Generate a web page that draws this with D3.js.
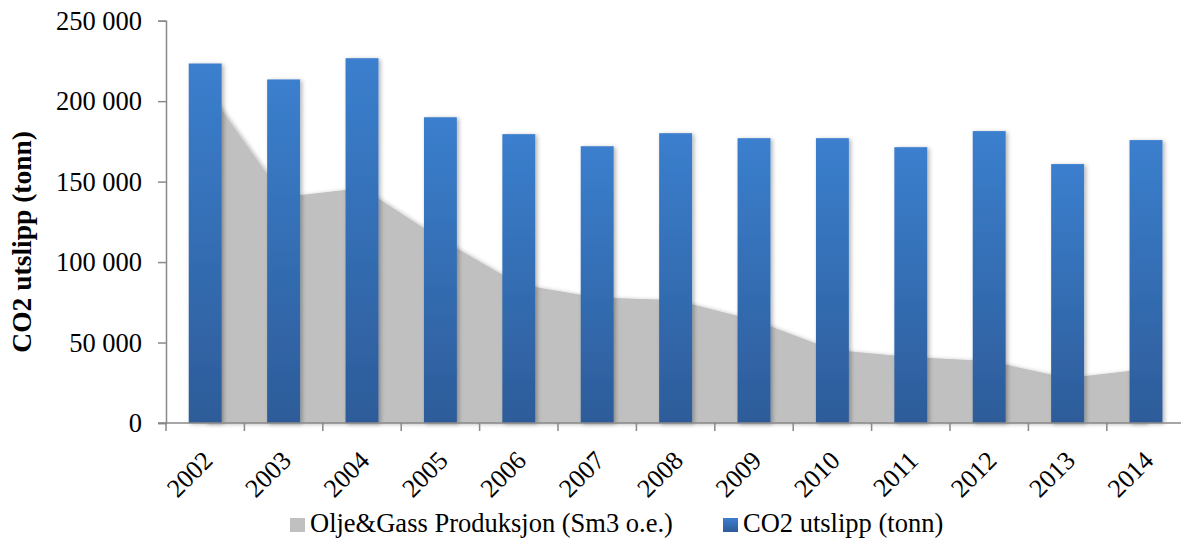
<!DOCTYPE html>
<html>
<head>
<meta charset="utf-8">
<script src="https://cdn.jsdelivr.net/npm/d3@7/dist/d3.min.js"></script>
<style>
  html, body { margin: 0; padding: 0; background: #fff; }
  svg { display: block; }
  text { font-family: "Liberation Serif", "Times New Roman", "DejaVu Serif", serif; fill: #000; }
</style>
</head>
<body>
<svg id="chart" width="1181" height="541"></svg>
<script>
// Years on the category axis
const years = ["2002","2003","2004","2005","2006","2007","2008","2009","2010","2011","2012","2013","2014"];
// CO2 emissions (tonnes) per year
const co2 = [223400, 213500, 226700, 190000, 179500, 172000, 180100, 177000, 177000, 171400, 181400, 160900, 175800];
// Oil & gas production (Sm3 o.e.) per year
const production = [209000, 140500, 146000, 114500, 86200, 78000, 76500, 64000, 45500, 41000, 38500, 28000, 33500];
// Value axis ticks
const yTicks = [0, 50000, 100000, 150000, 200000, 250000];

const serif = "'Liberation Serif', 'Times New Roman', 'DejaVu Serif', serif";
const svg = d3.select("#chart");
const plotLeft = 166, plotTop = 20.7, plotBottom = 423;
const step = 78.4;
const plotRight = plotLeft + step * years.length;

const x = d3.scaleBand().domain(years).range([plotLeft, plotRight]).paddingInner(0).paddingOuter(0);
const y = d3.scaleLinear().domain([0, 250000]).range([plotBottom, plotTop]);
const barW = x.bandwidth() * 0.42;
const cx = d => x(d) + x.bandwidth() / 2;

const defs = svg.append("defs");
const grad = defs.append("linearGradient").attr("id", "barGrad")
  .attr("x1", 0).attr("y1", 0).attr("x2", 0).attr("y2", 1);
grad.append("stop").attr("offset", "0%").attr("stop-color", "#3b7fce");
grad.append("stop").attr("offset", "100%").attr("stop-color", "#2d5c99");

const shadow = defs.append("filter").attr("id", "shadow")
  .attr("x", "-20%").attr("y", "-5%").attr("width", "150%").attr("height", "115%");
shadow.append("feDropShadow").attr("dx", 2).attr("dy", 1).attr("stdDeviation", 2)
  .attr("flood-color", "#000").attr("flood-opacity", 0.3);

const fmt = v => d3.format(",")(v).replace(/,/g, " ");

// Production area (drawn underneath the bars)
const area = d3.area()
  .x((d, i) => cx(years[i]))
  .y0(y(0))
  .y1(d => y(d));
svg.append("path")
  .datum(production)
  .attr("d", area)
  .attr("fill", "#c0c0c0")
  .attr("filter", "url(#shadow)");

// Emission bars
svg.append("g").selectAll("rect")
  .data(co2)
  .join("rect")
  .attr("x", (d, i) => cx(years[i]) - barW / 2)
  .attr("y", d => y(d))
  .attr("width", barW)
  .attr("height", d => y(0) - y(d))
  .attr("fill", "url(#barGrad)")
  .attr("filter", "url(#shadow)");

// Value axis
const yAxis = d3.axisLeft(y).tickValues(yTicks).tickFormat(fmt).tickSize(8).tickPadding(16);
const gy = svg.append("g").attr("transform", `translate(${plotLeft},0)`).call(yAxis);
gy.attr("font-family", serif);
gy.select(".domain").attr("stroke", "#898989").attr("stroke-width", 1.5);
gy.selectAll(".tick line").attr("stroke", "#898989").attr("stroke-width", 1.5);
gy.selectAll(".tick text")
  .style("font-family", serif)
  .style("font-size", "26.5px")
  .attr("fill", "#000");

// Category axis: line, boundary ticks, rotated labels
const gx = svg.append("g");
gx.append("line")
  .attr("x1", plotLeft - 8).attr("x2", plotRight)
  .attr("y1", plotBottom).attr("y2", plotBottom)
  .attr("stroke", "#898989").attr("stroke-width", 1.5);
gx.selectAll("line.tk")
  .data(years.concat(["end"]))
  .join("line").attr("class", "tk")
  .attr("x1", (d, i) => plotLeft + i * x.step())
  .attr("x2", (d, i) => plotLeft + i * x.step())
  .attr("y1", plotBottom).attr("y2", plotBottom + 8)
  .attr("stroke", "#898989").attr("stroke-width", 1.5);
gx.selectAll("text")
  .data(years)
  .join("text")
  .attr("transform", d => `translate(${cx(d) + 9},462) rotate(-45)`)
  .attr("text-anchor", "end")
  .style("font-family", serif)
  .style("font-size", "26px")
  .text(d => d);

// Axis title
svg.append("text")
  .attr("transform", `translate(31,${(plotTop + plotBottom) / 2 + 20}) rotate(-90)`)
  .attr("text-anchor", "middle")
  .style("font-family", serif)
  .style("font-size", "27.5px")
  .style("font-weight", "bold")
  .text("CO2 utslipp (tonn)");

// Legend
const legend = [
  { label: "Olje&Gass Produksjon (Sm3 o.e.)", fill: "#c0c0c0", x: 290 },
  { label: "CO2 utslipp (tonn)", fill: "url(#barGrad)", x: 723 }
];
const lg = svg.append("g").selectAll("g").data(legend).join("g")
  .attr("transform", d => `translate(${d.x},518)`);
lg.append("rect").attr("width", 15).attr("height", 14).attr("fill", d => d.fill);
lg.append("text").attr("x", 20).attr("y", 14)
  .style("font-family", serif)
  .style("font-size", "26.5px")
  .text(d => d.label);
</script>
</body>
</html>
